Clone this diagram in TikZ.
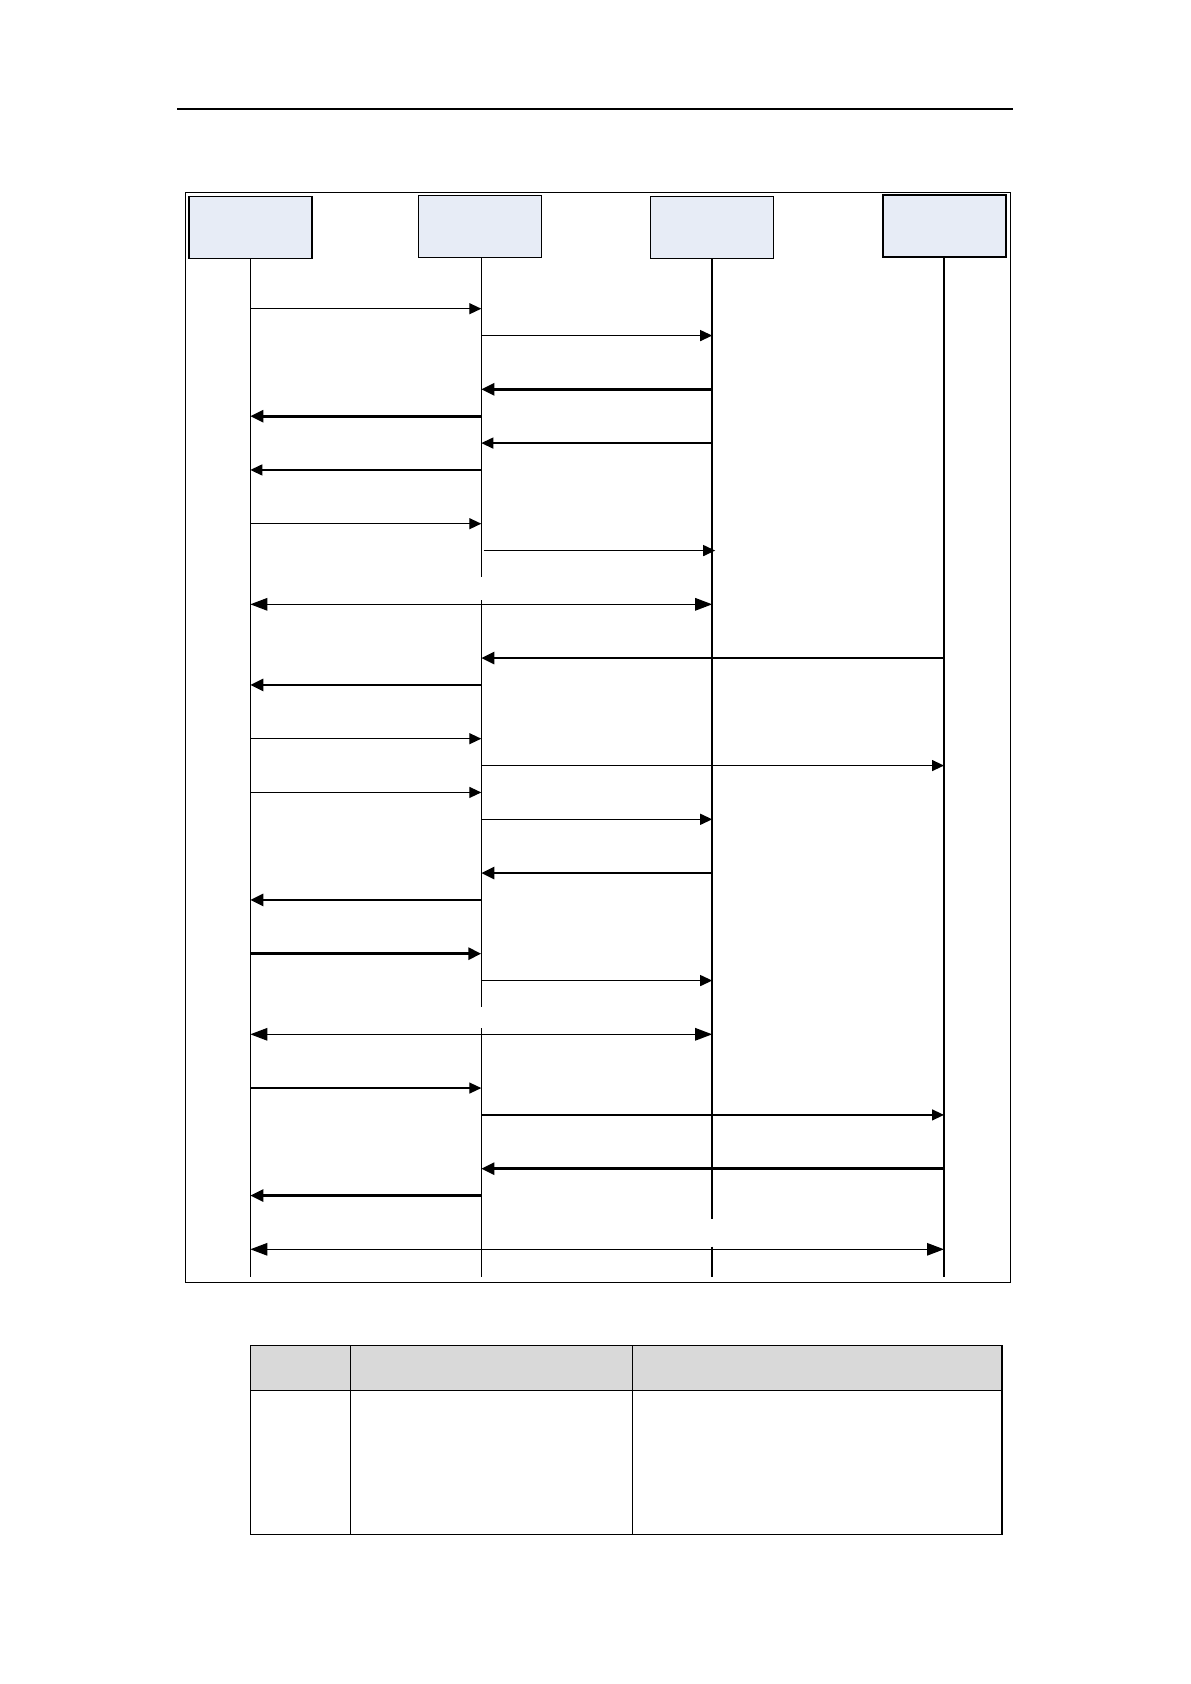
\documentclass[tikz,border=0pt]{standalone}
\usetikzlibrary{arrows.meta}
\definecolor{boxblue}{RGB}{231,236,246}
\definecolor{headgray}{RGB}{217,217,217}
\tikzset{
  actor/.style={draw=black, line width=1.5pt, fill=boxblue, minimum width=123pt, minimum height=62pt, inner sep=0pt},
  life/.style={line width=1.3pt},
  lifethick/.style={line width=2.3pt},
  thinmsg/.style={line width=1.3pt, -{Triangle[length=12pt,width=11pt]}},
  thickmsg/.style={line width=2.8pt, -{Triangle[length=13pt,width=12pt]}},
  dblmsg/.style={line width=1.3pt, {Triangle[length=17pt,width=12.5pt]}-{Triangle[length=17pt,width=12.5pt]}},
  rule/.style={line width=1.5pt}
}
\begin{document}
\begin{tikzpicture}[x=1pt,y=-1pt]
\useasboundingbox (0,0) rectangle (1191,1684);
% page header rule
\coordinate (hl) at (177,109);
\coordinate (hr) at (1013,109);
\draw[line width=1.3pt] (hl) -- (hr);
% frame
\draw[rule] (185.3,192.3) rectangle (1010.3,1282.3);
% actors
\node[actor] (A) at (250.3,227.3) {};
\node[actor] (B) at (479.8,226.3) {};
\node[actor] (C) at (712.2,227.3) {};
\node[actor] (D) at (944.6,226.0) {};
% lifeline anchors
\coordinate (LA) at (250.3,258.3);
\coordinate (LB) at (481.3,257.3);
\coordinate (LC) at (712.2,258.3);
\coordinate (LD) at (944.0,257.0);
% lifelines
\draw[life] (LA) -- (LA |- 0,1277.3);
\draw[life] (LB) -- (LB |- 0,576.7);
\draw[life] (LB |- 0,600) -- (LB |- 0,1006.5);
\draw[life] (LB |- 0,1028) -- (LB |- 0,1277.3);
\draw[lifethick] (LC) -- (LC |- 0,1219.3);
\draw[lifethick] (LC |- 0,1246.7) -- (LC |- 0,1276.7);
\draw[life] (LD) -- (LD |- 0,1277.3);
% messages
\foreach \k/\f/\t/\s in {0/LA/LB/thinmsg, 1/LB/LC/thinmsg, 3/LC/LB/thickmsg, 4/LB/LA/thickmsg,
  5/LC/LB/thinmsg, 6/LB/LA/thinmsg, 8/LA/LB/thinmsg, 11/LA/LC/dblmsg,
  13/LD/LB/thickmsg, 14/LB/LA/thickmsg, 16/LA/LB/thinmsg, 17/LB/LD/thinmsg, 18/LA/LB/thinmsg,
  19/LB/LC/thinmsg, 21/LC/LB/thickmsg, 22/LB/LA/thickmsg, 24/LA/LB/thickmsg, 25/LB/LC/thinmsg,
  27/LA/LC/dblmsg, 29/LA/LB/thinmsg, 30/LB/LD/thinmsg, 32/LD/LB/thickmsg, 33/LB/LA/thickmsg,
  35/LA/LD/dblmsg}{
  \pgfmathsetmacro\yy{308.7+26.874*\k}
  \draw[\s] (\f |- 0,\yy) -- (\t |- 0,\yy);
}
% offset message
\pgfmathsetmacro\yn{308.7+26.874*9}
\draw[thinmsg] ([xshift=2.4pt]LB |- 0,\yn) -- ([xshift=3pt]LC |- 0,\yn);
% table
\fill[headgray] (250.3,1345.3) rectangle (1002,1390.3);
\draw[rule] (250.3,1345.3) rectangle (1002,1534.5);
\draw[rule] (250.3,1390.3) -- (1002,1390.3);
\draw[rule] (350.3,1345.3) -- (350.3,1534.5);
\draw[rule] (632.5,1345.3) -- (632.5,1534.5);
\end{tikzpicture}
\end{document}
